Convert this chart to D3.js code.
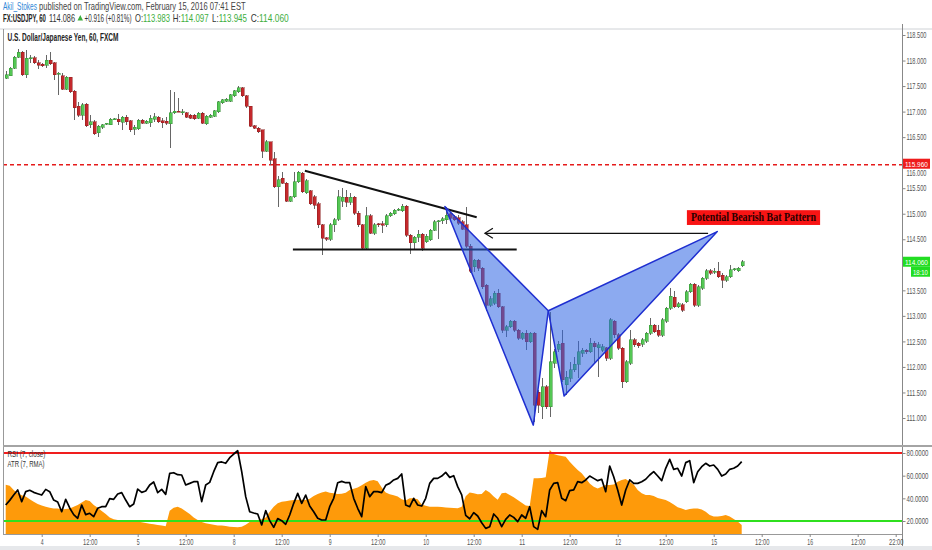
<!DOCTYPE html>
<html><head><meta charset="utf-8">
<script src="https://cdn.jsdelivr.net/npm/d3@7"></script>
<style>
html,body{margin:0;padding:0;background:#fff;}
svg{display:block;font-family:"Liberation Sans",Arial,sans-serif;}
</style></head><body>
<svg id="c" width="932" height="550"></svg>
<script>
// ---------- DATA ----------
const opens=[117.65,117.70,117.85,118.06,118.16,117.72,118.04,118.05,117.96,117.93,
117.91,118.01,117.96,117.73,117.70,117.44,117.67,117.40,117.10,116.93,
117.14,116.74,116.80,116.59,116.69,116.75,116.74,116.85,116.85,116.79,
116.89,116.82,116.65,116.66,116.83,116.77,116.78,116.85,116.89,116.82,
116.81,116.76,116.98,117.01,116.99,116.98,116.93,116.93,116.87,116.97,
116.76,116.89,116.91,117.00,117.17,117.20,117.20,117.31,117.39,117.47,
117.31,117.10,116.72,116.67,116.64,116.22,116.41,116.08,115.53,115.69,
115.60,115.24,115.33,115.63,115.79,115.41,115.45,115.33,115.20,114.78,
114.53,114.50,114.78,114.89,115.24,115.32,115.22,115.32,115.01,114.78,
114.32,114.96,114.62,114.80,114.80,114.78,114.96,115.00,115.07,115.06,
115.15,114.58,114.43,114.54,114.60,114.45,114.49,114.68,114.84,114.86,
114.88,115.00,114.94,114.92,114.84,114.78,114.36,113.96,114.09,113.93,
113.60,113.21,113.25,113.44,113.18,112.72,112.79,112.89,112.72,112.56,
112.66,112.49,112.66,111.50,111.22,111.61,111.22,112.07,112.35,112.46,
111.65,111.78,111.94,112.05,112.27,112.33,112.30,112.46,112.38,112.33,
112.38,112.17,112.89,112.63,112.37,111.71,112.07,112.53,112.46,112.44,
112.50,112.66,112.82,112.72,112.62,112.89,113.15,113.36,113.18,113.22,
113.28,113.47,113.62,113.21,113.54,113.74,113.88,113.85,113.87,113.80,
113.70,113.77,113.90,113.88,113.98];
const highs=[117.80,117.87,118.08,118.22,118.19,118.20,118.11,118.09,118.01,117.95,
118.11,118.16,117.98,117.78,117.76,117.69,117.68,117.42,117.19,117.16,
117.16,116.93,116.83,116.74,116.76,116.78,116.87,116.88,116.95,116.91,
116.93,116.84,116.74,116.86,116.85,116.83,116.93,116.98,116.91,116.87,
116.90,117.42,117.39,117.26,117.06,117.00,116.95,116.95,116.99,116.99,
116.93,116.95,117.04,117.21,117.25,117.26,117.35,117.43,117.51,117.49,
117.32,117.11,116.74,116.69,116.64,116.45,116.41,116.21,115.73,115.82,
115.62,115.35,115.82,115.84,115.82,115.68,115.46,115.36,115.22,114.80,
114.55,114.82,114.91,115.46,115.50,115.46,115.40,115.35,115.05,114.80,
115.14,115.00,114.82,114.82,114.86,114.99,115.03,115.10,115.11,115.20,
115.18,114.60,114.56,114.68,114.62,114.60,114.70,114.88,114.88,114.94,
115.14,115.04,114.98,114.97,114.87,115.14,114.40,114.12,114.12,113.96,
113.62,113.38,113.48,113.52,113.20,112.82,112.92,112.92,112.75,112.69,
112.72,112.68,112.69,111.55,111.78,111.64,113.08,112.36,112.50,112.72,
111.92,112.10,112.20,112.50,112.38,112.36,112.56,112.50,112.48,112.45,
112.40,112.95,112.92,112.66,112.40,112.14,112.72,112.56,112.49,112.56,
112.69,112.96,112.85,112.82,112.95,113.18,113.54,113.48,113.27,113.25,
113.50,113.65,113.64,113.60,113.77,113.92,113.91,113.93,114.05,113.83,
113.80,114.00,113.94,113.96,114.10];
const lows=[117.63,117.69,117.84,118.05,117.70,117.65,117.96,117.93,117.83,117.88,
117.85,117.91,117.62,117.33,117.42,117.43,117.36,116.84,116.90,116.84,
116.69,116.67,116.54,116.51,116.66,116.74,116.73,116.83,116.74,116.64,
116.74,116.61,116.54,116.64,116.75,116.76,116.69,116.80,116.78,116.67,
116.74,116.28,116.95,116.99,116.93,116.87,116.85,116.84,116.85,116.75,
116.74,116.87,116.89,116.98,117.15,117.18,117.18,117.29,117.36,117.29,
117.08,116.69,116.65,116.59,116.09,116.20,115.95,115.50,115.14,115.58,
115.22,115.22,115.30,115.61,115.41,115.39,115.17,115.10,114.72,114.19,
114.46,114.47,114.65,114.86,115.14,115.14,115.18,114.98,114.75,114.29,
114.29,114.60,114.59,114.74,114.62,114.75,114.94,114.98,115.05,115.04,
114.55,114.21,114.30,114.45,114.28,114.43,114.47,114.66,114.50,114.79,
114.80,114.88,114.85,114.78,114.68,114.33,113.83,113.85,113.88,113.52,
113.09,113.18,113.22,113.15,112.66,112.59,112.76,112.69,112.53,112.53,
112.33,112.46,110.93,111.10,110.99,111.18,111.02,111.98,112.30,111.70,
111.45,111.71,111.90,111.78,112.20,112.25,112.28,112.05,111.81,112.30,
112.12,112.14,112.56,112.33,111.58,111.68,112.04,112.40,112.38,112.40,
112.46,112.63,112.66,112.59,112.59,112.86,113.12,113.15,113.15,113.08,
113.25,113.44,113.18,113.18,113.51,113.70,113.80,113.82,113.74,113.54,
113.67,113.74,113.88,113.85,113.95];
const closes=[117.72,117.85,118.06,118.16,117.72,118.04,118.05,117.96,117.91,117.90,
118.01,117.94,117.72,117.75,117.44,117.67,117.39,117.08,116.93,117.13,
116.72,116.80,116.57,116.71,116.74,116.77,116.85,116.86,116.80,116.89,
116.80,116.64,116.69,116.83,116.77,116.81,116.87,116.90,116.80,116.78,
116.77,116.98,117.01,117.00,117.00,116.89,116.87,116.86,116.97,116.77,
116.91,116.93,117.02,117.19,117.23,117.24,117.33,117.41,117.47,117.31,
117.10,116.71,116.67,116.61,116.22,116.41,116.05,115.53,115.67,115.60,
115.24,115.33,115.63,115.81,115.43,115.65,115.20,115.17,114.78,114.52,
114.50,114.78,114.88,115.33,115.32,115.22,115.32,115.01,114.78,114.32,
114.96,114.62,114.78,114.78,114.77,114.96,115.01,115.07,115.09,115.15,
114.58,114.43,114.54,114.60,114.32,114.56,114.68,114.84,114.86,114.90,
114.97,114.91,114.88,114.81,114.70,114.36,113.87,114.09,113.93,113.57,
113.21,113.34,113.44,113.18,112.72,112.79,112.89,112.72,112.56,112.66,
112.49,112.66,111.25,111.25,111.61,111.22,112.10,112.30,112.44,111.75,
111.80,111.94,112.05,112.30,112.33,112.30,112.46,112.40,112.43,112.40,
112.17,112.92,112.63,112.37,111.71,112.10,112.53,112.43,112.41,112.53,
112.66,112.82,112.69,112.62,112.92,113.15,113.38,113.18,113.24,113.11,
113.47,113.62,113.21,113.57,113.74,113.88,113.83,113.87,113.77,113.70,
113.77,113.90,113.92,113.93,114.06];
const rsiValues=[34.1,38.2,42.9,47.4,37.1,45.9,47.1,45.3,44.1,42.9,
47.9,45.9,38.5,36.8,28.2,39.1,31.5,25.6,22.4,34.1,
25.6,26.8,23.8,31.2,32.6,32.6,39.7,39.1,43.8,45.0,
38.5,32.6,35.0,48.2,45.3,46.5,51.8,54.4,45.0,47.9,
43.5,62.1,62.6,60.9,60.6,51.8,53.2,54.7,54.7,37.1,
51.8,54.1,63.5,71.5,72.1,70.9,75.9,79.1,82.0,63.5,
41.5,28.2,27.1,26.2,16.5,29.1,20.3,14.4,22.1,20.3,
17.1,25.3,35.6,44.4,35.6,42.9,33.2,28.2,22.4,20.9,
20.9,32.6,40.0,53.8,55.0,53.8,53.8,40.0,31.2,23.8,
50.3,41.5,45.9,45.9,45.0,51.5,53.2,56.2,57.6,61.5,
34.1,32.6,40.0,34.1,33.2,40.0,53.2,57.6,57.6,59.7,
62.9,58.5,60.0,50.3,43.0,25.0,22.0,27.4,24.4,18.5,
13.5,15.0,26.2,22.4,15.0,21.5,25.3,23.2,19.4,25.3,
22.4,32.6,15.0,12.6,29.1,23.8,47.4,53.2,53.8,40.0,
37.9,46.8,47.4,54.7,53.8,56.2,59.7,57.6,55.6,56.8,
45.9,68.5,59.1,47.4,34.1,47.4,56.2,53.2,53.2,54.7,
56.8,60.6,63.5,59.7,55.6,66.5,74.4,65.6,66.5,59.7,
71.5,73.2,53.8,63.5,67.9,70.9,68.5,69.4,65.6,59.7,
61.5,65.6,66.5,68.5,72.4];
const atrValues=[0.285,0.28,0.259,0.244,0.234,0.228,0.215,0.204,0.193,0.186,
0.18,0.175,0.172,0.172,0.167,0.169,0.172,0.18,0.188,0.2,
0.212,0.207,0.188,0.175,0.16,0.145,0.129,0.12,0.117,0.117,
0.117,0.115,0.112,0.109,0.106,0.102,0.099,0.096,0.093,0.09,
0.087,0.161,0.175,0.18,0.172,0.158,0.145,0.129,0.117,0.107,
0.101,0.098,0.094,0.091,0.09,0.088,0.085,0.083,0.082,0.085,
0.094,0.107,0.112,0.117,0.12,0.129,0.156,0.18,0.196,0.204,
0.206,0.21,0.212,0.213,0.213,0.212,0.218,0.231,0.24,0.248,
0.252,0.247,0.244,0.24,0.242,0.247,0.259,0.266,0.272,0.282,
0.294,0.304,0.307,0.301,0.272,0.248,0.239,0.234,0.228,0.215,
0.209,0.22,0.22,0.215,0.19,0.185,0.18,0.18,0.18,0.178,
0.176,0.175,0.174,0.173,0.18,0.23,0.248,0.244,0.239,0.24,
0.259,0.248,0.228,0.213,0.244,0.247,0.236,0.225,0.212,0.199,
0.186,0.183,0.315,0.315,0.317,0.32,0.45,0.431,0.425,0.421,
0.418,0.394,0.374,0.355,0.339,0.315,0.291,0.275,0.267,0.275,
0.283,0.283,0.286,0.299,0.307,0.312,0.299,0.286,0.259,0.244,
0.236,0.236,0.231,0.221,0.217,0.212,0.202,0.191,0.177,0.171,
0.164,0.169,0.172,0.172,0.167,0.156,0.14,0.133,0.133,0.136,
0.14,0.133,0.121,0.109,0.093];
const priceTicks=[111,111.5,112,112.5,113,113.5,114,114.5,115,115.5,116,116.5,117,117.5,118,118.5];
const rsiTicks=[20,40,60,80];
const rsiLevels=[80,20];
const timeTickIdx=[9,21,33,45,57,69,81,93,105,117,129,141,153,165,177,189,201,213,222.5];
const timeTickLabels=["4","12:00","5","12:00","8","12:00","9","12:00","10","12:00","11","12:00","12","12:00","15","12:00","16","12:00","22:00"];
const resistanceLevel=115.96;
const lastPrice=114.06;
const countdownText="18:10";
// annotations (bar index, price)
const triTopIdx=[74.8,117.75], triTopPx=[115.843,114.93];
const supportIdx=[71.8,127.75], supportPx=[114.30,114.30];
const arrowIdx=[175.6,119.8], arrowPx=[114.617,114.617];
const batIdx=[109.8,131.9,135.65,139.6,177.9];
const batPx=[115.14,110.86,113.10,111.43,114.65];
const batLabel="Potential Bearish Bat Pattern";
const batLabelIdx=[170.3,203.6], batLabelPx=[115.07,114.78];
const headerUser="Akil_Stokes";
const headerRest="published on TradingView.com, February 15, 2016 07:41 EST";
const symbolText="FX:USDJPY, 60";
const symbolTitle="U.S. Dollar/Japanese Yen, 60, FXCM";
const quote={last:"114.086",chg:"+0.916 (+0.81%)",o:"113.983",h:"114.097",l:"113.945",c:"114.060"};

// ---------- CHART ----------
const svg=d3.select("#c");
const W=932,H=550;
const L=3,R=902,mainTop=29,mainBot=445,rsiTop=447,rsiBot=534;
const x=d3.scaleLinear().domain([0,224]).range([5.7,901.7]);
const y=d3.scaleLinear().domain([111,118.5]).range([418.0,35]);
const yr=d3.scaleLinear().domain([20,80]).range([521,453]);
const ya=d3.scaleLinear().domain([0.05,0.45]).range([534,450]);
const GREEN="#3dae3d";

// squeeze a text horizontally to a given width (the reference uses a condensed face)
function fit(t,px,py,len){
  const n=t.node().getComputedTextLength();
  const s=n>0?Math.min(1,len/n):1;
  t.attr("x",0).attr("y",0).attr("transform",`translate(${px},${py}) scale(${s.toFixed(4)},1)`);
  return t;
}
function T(g,str,px,py,len,opt={},parts){
  const t=g.append("text")
    .attr("font-size",opt.size||10).attr("fill",opt.fill||"#333");
  if(opt.weight)t.attr("font-weight",opt.weight);
  if(opt.family)t.attr("font-family",opt.family);
  if(opt.anchor)t.attr("text-anchor",opt.anchor);
  if(parts){parts.forEach(([s,f])=>t.append("tspan").attr("fill",f).text(s));}
  else t.text(str);
  return fit(t,px,py,len);
}

svg.append("rect").attr("width",W).attr("height",H).attr("fill","#fff");
svg.append("rect").attr("x",0).attr("y",546).attr("width",W).attr("height",4).attr("fill","#e6e8eb");

// header
const hd=svg.append("g");
T(hd,headerUser,3,10,34,{fill:"#2f86d6"});
T(hd,headerRest,39,10,207,{fill:"#444"});
T(hd,symbolText,3,21.5,43,{fill:"#222",weight:"bold"});
T(hd,quote.last,49,21.5,26,{fill:"#333"});
hd.append("path").attr("d","M77.5,20.5L80.3,15L83,20.5Z").attr("fill",GREEN);
T(hd,quote.chg,84.5,21.5,47,{fill:"#333"});
[["O:",quote.o,135,35],["H:",quote.h,172.7,36],["L:",quote.l,212,35],["C:",quote.c,250.7,38]].forEach(([k,v,px,len])=>{
  T(hd,null,px,21.5,len,{},[[k,"#333"],[v,GREEN]]);
});
svg.append("line").attr("x1",0).attr("x2",W).attr("y1",mainTop).attr("y2",mainTop).attr("stroke","#cfd2d6");
T(svg,symbolTitle,7.5,40.5,111,{fill:"#222",weight:"bold",size:10});

// clip paths
const defs=svg.append("defs");
defs.append("clipPath").attr("id","cm").append("rect").attr("x",L).attr("y",mainTop).attr("width",R-L).attr("height",mainBot-mainTop);
defs.append("clipPath").attr("id","cr").append("rect").attr("x",L).attr("y",rsiTop).attr("width",R-L).attr("height",rsiBot-rsiTop);

const main=svg.append("g").attr("clip-path","url(#cm)");
// resistance dashed line
main.append("line").attr("x1",L).attr("x2",R).attr("y1",y(resistanceLevel)).attr("y2",y(resistanceLevel))
  .attr("stroke","#e51b1b").attr("stroke-width",1.6).attr("stroke-dasharray","4,3");

// candles
const bars=d3.range(opens.length).map(i=>({i,o:opens[i],h:highs[i],l:lows[i],c:closes[i]}));
const cg=main.append("g").attr("shape-rendering","crispEdges");
cg.selectAll("line.w").data(bars).join("line").attr("class","w")
  .attr("x1",d=>Math.round(x(d.i))+0.5).attr("x2",d=>Math.round(x(d.i))+0.5)
  .attr("y1",d=>y(d.h)).attr("y2",d=>y(d.l)).attr("stroke","#666").attr("stroke-width",1);
cg.selectAll("rect.b").data(bars).join("rect").attr("class","b")
  .attr("x",d=>Math.round(x(d.i))-1).attr("width",3)
  .attr("y",d=>y(Math.max(d.o,d.c))).attr("height",d=>Math.max(1,Math.abs(y(d.o)-y(d.c))))
  .attr("fill",d=>d.c>=d.o?"#54c754":"#c4282c")
  .attr("stroke",d=>d.c>=d.o?"#2f8a2f":"#8c1c1c").attr("stroke-width",0.5);

// trend lines
const line=d3.line().x(d=>x(d[0])).y(d=>y(d[1]));
main.append("path").attr("d",line(d3.zip(triTopIdx,triTopPx))).attr("stroke","#111").attr("stroke-width",2).attr("fill","none");
main.append("path").attr("d",line(d3.zip(supportIdx,supportPx))).attr("stroke","#111").attr("stroke-width",2).attr("fill","none");
// arrow
main.append("path").attr("d",line(d3.zip(arrowIdx,arrowPx))).attr("stroke","#111").attr("stroke-width",1.2).attr("fill","none");
const ax=x(arrowIdx[1]),ay=y(arrowPx[1]);
main.append("path").attr("d",`M${ax+8},${ay-5}L${ax},${ay}L${ax+8},${ay+5}`).attr("stroke","#111").attr("stroke-width",1.2).attr("fill","none");

// bat pattern
const pts=d3.zip(batIdx,batPx);
[[pts[0],pts[1],pts[2]],[pts[2],pts[3],pts[4]]].forEach(tri=>{
  main.append("path").attr("d",line(tri)+"Z").attr("fill","rgba(45,100,228,0.55)")
    .attr("stroke","#1f2fd0").attr("stroke-width",1.5).attr("stroke-linejoin","round");
});
// label
const lx0=x(batLabelIdx[0]),lx1=x(batLabelIdx[1]),ly0=y(batLabelPx[0]),ly1=y(batLabelPx[1]);
main.append("rect").attr("x",lx0).attr("y",ly0).attr("width",lx1-lx0).attr("height",ly1-ly0).attr("fill","#f81414");
T(main,batLabel,lx0+4,ly1-4,lx1-lx0-8,{fill:"#2a0000",weight:"bold",size:11.5,family:"'Liberation Serif','Times New Roman',serif"});

// RSI panel
const rp=svg.append("g").attr("clip-path","url(#cr)");
const area=d3.area().x((d,i)=>x(i)).y0(rsiBot).y1(d=>ya(d));
rp.append("path").attr("d",area(atrValues)).attr("fill","#fe9a0a");
rsiLevels.forEach((lv,k)=>{
  rp.append("line").attr("x1",L).attr("x2",R).attr("y1",yr(lv)).attr("y2",yr(lv))
    .attr("stroke",k===0?"#f01e1e":"#2fe01e").attr("stroke-width",2);
});
rp.append("path").attr("d",d3.line().x((d,i)=>x(i)).y(d=>yr(d))(rsiValues))
  .attr("fill","none").attr("stroke","#000").attr("stroke-width",1.7).attr("stroke-linejoin","round");
T(svg,"RSI (7, close)",7.5,457,38,{size:8.5,fill:"#333"});
T(svg,"ATR (7, RMA)",7.5,467,37,{size:8.5,fill:"#333"});

// frames
svg.append("line").attr("x1",L+0.5).attr("x2",L+0.5).attr("y1",mainTop).attr("y2",rsiBot).attr("stroke","#999");
svg.append("line").attr("x1",R+0.5).attr("x2",R+0.5).attr("y1",24).attr("y2",546).attr("stroke","#888");
svg.append("rect").attr("x",L).attr("y",mainBot).attr("width",W-L).attr("height",2).attr("fill","#a4a4a4");
svg.append("line").attr("x1",L).attr("x2",R).attr("y1",rsiBot+0.5).attr("y2",rsiBot+0.5).attr("stroke","#999");

function squeezeTicks(g,len,dx){
  g.selectAll(".tick text").each(function(d,i){
    const t=d3.select(this);
    const n=this.getComputedTextLength();
    const L2=typeof len==="function"?len(d,i):len;
    const s=n>0?Math.min(1,L2/n):1;
    const tx=dx===undefined?0:dx;
    const ty=+t.attr("y")||0;
    t.attr("x",0).attr("y",0).attr("transform",`translate(${tx},${ty}) scale(${s.toFixed(4)},1)`);
  });
}

// price axis
const pa=svg.append("g").attr("transform",`translate(${R+0.5},0)`);
pa.call(d3.axisRight(y).tickValues(priceTicks).tickSize(3).tickFormat(d3.format(".3f")));
pa.select(".domain").remove();
pa.selectAll(".tick line").attr("stroke","#888");
pa.selectAll(".tick text").attr("font-size",8.5).attr("fill","#555").attr("font-family","Liberation Sans,Arial,sans-serif")
  .attr("dy",d=>Math.abs(y(d)-y(resistanceLevel))<8?"1.5em":"0.32em");
// labels hidden underneath the last-price marker (as in the reference)
pa.selectAll(".tick").filter(d=>Math.abs(y(d)-y(lastPrice))<12).select("text").remove();
squeezeTicks(pa,20,4);

// rsi axis
const ra=svg.append("g").attr("transform",`translate(${R+0.5},0)`);
ra.call(d3.axisRight(yr).tickValues(rsiTicks).tickSize(3).tickFormat(d3.format(".4f")));
ra.select(".domain").remove();
ra.selectAll(".tick line").attr("stroke","#888");
ra.selectAll(".tick text").attr("font-size",8.5).attr("fill","#555").attr("font-family","Liberation Sans,Arial,sans-serif");
squeezeTicks(ra,22,4);

// price markers
function marker(p,txt,fill,dx,w,dy,fs){
  const cy=y(p)+dy;
  svg.append("rect").attr("x",R+1+dx).attr("y",cy-5).attr("width",w).attr("height",10).attr("fill",fill);
  T(svg,txt,R+3+dx,cy+2.8,w-4,{size:fs||8,fill:"#fff"});
}
marker(resistanceLevel,d3.format(".3f")(resistanceLevel),"#ee1c1c",0,27,-1);
marker(lastPrice,d3.format(".3f")(lastPrice),"#22dd22",0,27,0,7.5);
marker(lastPrice,countdownText,"#22dd22",8,19,10,7.5);

// time axis
const ta=svg.append("g").attr("transform",`translate(0,${rsiBot})`);
ta.call(d3.axisBottom(x).tickValues(timeTickIdx).tickSize(3).tickFormat((d,i)=>timeTickLabels[i]));
ta.select(".domain").remove();
ta.selectAll(".tick line").attr("stroke","#888");
ta.selectAll(".tick text").attr("y",5).attr("font-size",8.5).attr("fill","#555").attr("font-family","Liberation Sans,Arial,sans-serif");
squeezeTicks(ta,(d,i)=>timeTickLabels[i].length*2.9,0);
</script>
</body></html>
